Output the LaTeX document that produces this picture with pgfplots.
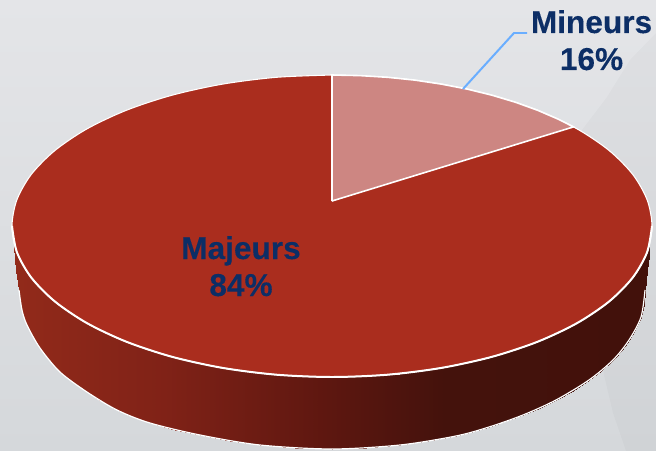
\documentclass[border=0pt]{standalone}
\usepackage{fontspec}
\setmainfont[BoldFeatures={FakeBold=0.25}]{Liberation Sans}
\usepackage{pgfplots}
\pgfplotsset{compat=1.18}
\definecolor{redtop}{RGB}{170,45,30}
\definecolor{pinkw}{RGB}{205,134,130}
\definecolor{navy}{RGB}{12,46,102}
\definecolor{leader}{RGB}{106,174,255}
\begin{document}
\begin{tikzpicture}
\begin{axis}[
  scale only axis, width=656bp, height=451bp,
  xmin=0, xmax=656, ymin=0, ymax=451, y dir=reverse,
  axis line style={draw=none}, ticks=none,
  axis background/.style={top color={rgb,255:red,228;green,229;blue,232}, bottom color={rgb,255:red,213;green,216;blue,219}},
  colormap={side}{rgb255(0cm)=(146,42,26); rgb255(3cm)=(128,34,23); rgb255(6.2cm)=(94,23,16); rgb255(8.6cm)=(68,18,12); rgb255(12.7cm)=(66,17,11)},
]
% faint background panel at the right
\addplot[draw=none, fill=black, fill opacity=0.018] coordinates {
  (582,130) (607,97) (630,60) (656,33) (656,451) (626,451) (613,413) (604,375) (582,130)};
% side wall of the pie
\addplot[surf, shader=interp, point meta=x, mesh/cols=44] table {
x y
14.5 244.8
16 249.8
19 257.5
22 263.5
24 267
27 271.7
33 279.8
40 287.8
49 296.5
60 305.5
73 314.7
87 323.1
101 330.5
117 337.8
133 344.2
150 350.2
175 357.6
200 363.6
230 369.1
260 373.1
295 376
332 377
366 376.1
400 373.6
428 370
456 365.2
472 361.8
489 357.6
506 352.7
523 347.1
540 340.8
556 333.8
573 325.3
589 316
601 307.8
613 298.3
622 289.8
629 282.2
636 273.1
641 265.3
644 259.6
645 257.5
647 252.7
649.5 244.8
14.5 247
16 270
19 290
22 310
24 318
27 325
33 337
40 348
49 360
60 372
73 382
87 392
101 401
117 410
133 417
150 423
175 430
200 435
230 441
260 445
295 448
332 449
366 448
400 445
428 441
456 436
472 432
489 427
506 421
523 415
540 408
556 400
573 391
589 380
601 370.5
613 360
622 350
629 340
636 328
641 317
644 304
645 290
647 270
649.5 248
};
% white lower rim
\addplot[white, line width=1.2pt, smooth] coordinates {
 (19,290) (22,310) (27,325) (40,348) (60,372) (87,392) (117,410) (150,423) (200,435) (260,445) (332,449)
 (400,445) (456,436) (489,427) (523,415) (556,400) (589,380) (613,360) (629,340) (641,317) (645,290)};
% top of the pie: Majeurs 84
\addplot[draw=white, line width=1.1pt, fill=redtop, smooth] coordinates {
 (332,75) (387.6,77.3) (441.4,84.1) (492,95.2) (537.7,110.3) (577.1,128.9) (609.1,150.5) (632.7,174.4) (647.1,199.8) (652,226)
 (647.1,252.2) (632.7,277.6) (609.1,301.5) (577.1,323.1) (537.7,341.7) (492,356.8) (441.4,367.9) (387.6,374.7) (332,377)
 (276.4,374.7) (222.6,367.9) (172,356.8) (126.3,341.7) (86.9,323.1) (54.9,301.5) (31.3,277.6) (16.9,252.2) (12,226)
 (16.9,199.8) (31.3,174.4) (54.9,150.5) (86.9,128.9) (126.3,110.3) (172,95.2) (222.6,84.1) (276.4,77.3) (332,75)};
% heavier rim along the front of the top
\addplot[white, line width=2pt, smooth] coordinates {
 (652,226) (647.1,252.2) (632.7,277.6) (609.1,301.5) (577.1,323.1) (537.7,341.7) (492,356.8) (441.4,367.9) (387.6,374.7) (332,377)
 (276.4,374.7) (222.6,367.9) (172,356.8) (126.3,341.7) (86.9,323.1) (54.9,301.5) (31.3,277.6) (16.9,252.2) (12,226)};
% Mineurs 16
\addplot[draw=white, line width=1.6pt, fill=pinkw, line join=miter] coordinates {
 (332,201) (332,75) (359.9,75.6) (387.6,77.3) (414.8,80.1) (441.4,84.1) (467.2,89.1) (492,95.2) (515.6,102.3) (537.7,110.3) (558.3,119.2) (573.5,126.9) (332,201)};
% leader
\addplot[leader, line width=2pt] coordinates {(463,89) (514,33) (527,33)};
\node[anchor=base, text=navy, font=\fontsize{31.6bp}{37bp}\selectfont\bfseries] at (axis cs:241,259) {Majeurs};
\node[anchor=base, text=navy, font=\fontsize{31.6bp}{37bp}\selectfont\bfseries] at (axis cs:241,296) {84\%};
\node[anchor=base, text=navy, font=\fontsize{31.6bp}{37bp}\selectfont\bfseries] at (axis cs:591.5,33) {Mineurs};
\node[anchor=base, text=navy, font=\fontsize{31.6bp}{37bp}\selectfont\bfseries] at (axis cs:591.5,70) {16\%};
\end{axis}
\end{tikzpicture}
\end{document}
